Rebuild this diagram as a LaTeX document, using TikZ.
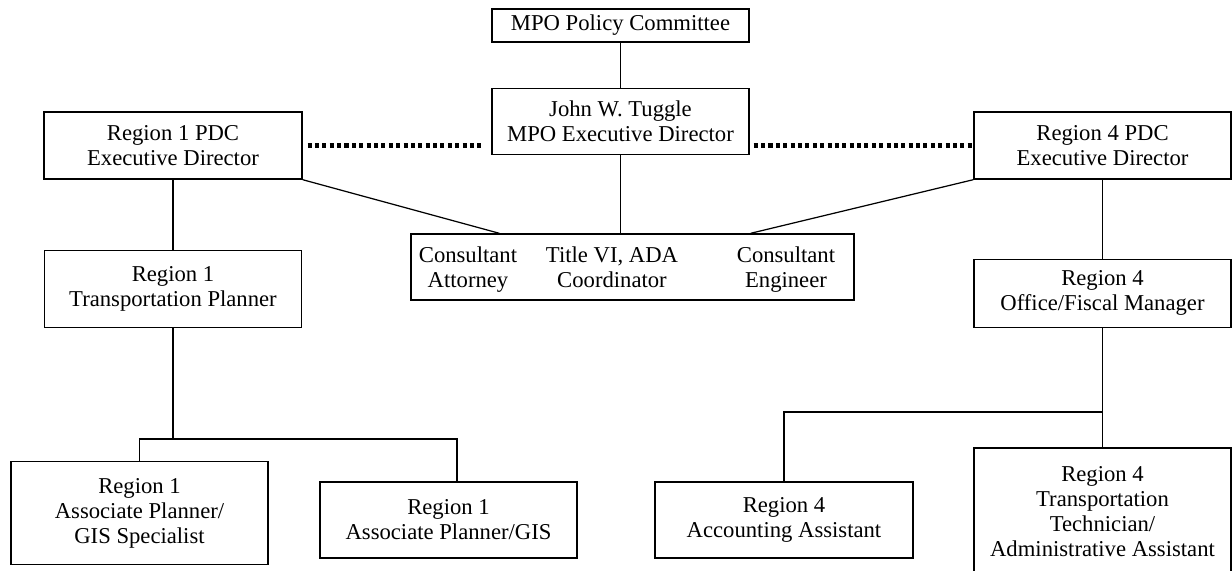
\documentclass[tikz,border=0pt]{standalone}
\usepackage{fontspec}
\setmainfont{Liberation Serif}
\usetikzlibrary{positioning, calc}

\begin{document}
\begin{tikzpicture}[
    x=0.02cm, y=-0.02cm,
    box/.style={draw, line width=0.8pt, minimum width=5.14cm, inner sep=0pt,
        align=center, font=\fontsize{12.9}{14.2}\selectfont},
    lbl/.style={inner sep=0pt, align=center, anchor=north,
        font=\fontsize{12.9}{14.2}\selectfont},
    link/.style={line width=0.7pt},
    peer/.style={line width=2.3pt, dash pattern=on 2.3pt off 1.9pt},
]
\useasboundingbox (0,0) rectangle (1232,571);

% ---- MPO row ----
\node[box, minimum height=0.66cm] (policy) at (620.5,25.5)
    {MPO Policy Committee};
\node[box, below=0.9cm of policy, minimum height=1.32cm] (john)
    {John W. Tuggle\\MPO Executive Director};

% ---- PDC directors ----
\node[box, minimum width=5.16cm, minimum height=1.34cm] (r1pdc) at (173,145.5)
    {Region 1 PDC\\Executive Director};
\node[box, minimum height=1.34cm] (r4pdc) at (1102.5,145.5)
    {Region 4 PDC\\Executive Director};

% ---- Shared consultants ----
\node[box, minimum width=8.86cm, minimum height=1.32cm] (consult) at (632.5,267) {};
\node[lbl] (att) at (468,246) {Consultant\\Attorney};
\node[lbl] (ada) at (612,246) {Title VI, ADA\\Coordinator};
\node[lbl] (eng) at (786,246) {Consultant\\Engineer};

% ---- Region 1 staff ----
\node[box, below=1.4cm of r1pdc, minimum height=1.54cm] (r1tp)
    {Region 1\\Transportation Planner};
\node[box, minimum height=2.06cm] (r1gis1) at (139.5,513)
    {Region 1\\Associate Planner/\\GIS Specialist};
\node[box, minimum height=1.52cm] (r1gis2) at (448.5,520)
    {Region 1\\Associate Planner/GIS};

% ---- Region 4 staff ----
\node[box, below=1.58cm of r4pdc, minimum height=1.36cm] (r4off)
    {Region 4\\Office/Fiscal Manager};
\node[box, minimum width=5.16cm, minimum height=1.52cm] (r4acc) at (784,520)
    {Region 4\\Accounting Assistant};
\node[box, minimum height=2.54cm] (r4tech) at (1102.5,511.5)
    {Region 4\\Transportation\\Technician/\\Administrative Assistant};

% reporting lines
\draw[link] (policy) -- (john);
\draw[link] (john.south) -- (john.south |- consult.north);
\coordinate (attin) at ($(consult.north west)+(89,0)$);
\coordinate (engin) at ($(consult.north east)+(-104,0)$);
\draw[link] (r1pdc.south east) -- (attin);
\draw[link] (r4pdc.south west) -- (engin);
\draw[link] (r1pdc) -- (r1tp);
\draw[link] (r4pdc) -- (r4off);

% dotted peer links
\draw[peer, shorten <=2.8pt, shorten >=5pt] (r1pdc.east) -- (r1pdc.east -| john.west);
\draw[peer, shorten <=2.3pt] (john.east |- r4pdc.west) -- (r4pdc.west);

% Region 1 branch
\coordinate (r1bus) at (r1tp.south |- 0,439);
\draw[link] (r1tp.south) -- (r1bus);
\draw[link] (r1gis1.north) |- (r1bus) -| ($(r1gis2.north)+(8.5,0)$);

% Region 4 branch
\coordinate (r4bus) at (r4off.south |- 0,412);
\draw[link] (r4off.south) -- (r4off.south |- r4tech.north);
\draw[link] (r4bus) -| (r4acc.north);

\end{tikzpicture}
\end{document}
